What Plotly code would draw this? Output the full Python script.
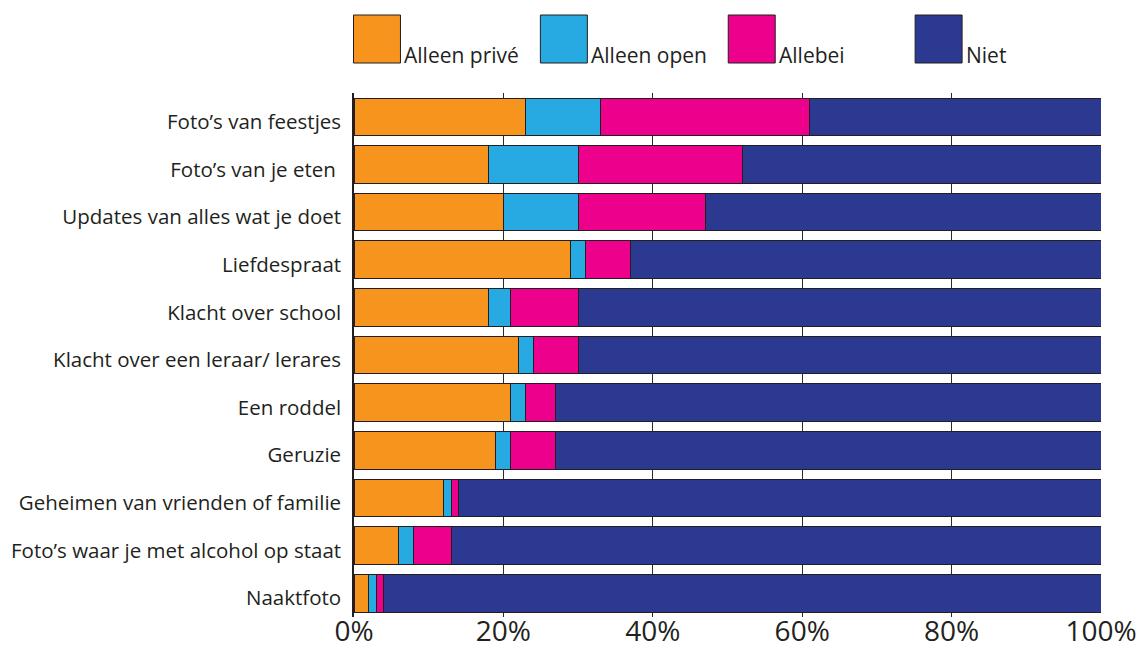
import plotly.graph_objects as go

categories = [
    "Foto’s van feestjes",
    "Foto’s van je eten\u00a0",
    "Updates van alles wat je doet",
    "Liefdespraat",
    "Klacht over school",
    "Klacht over een leraar/ lerares",
    "Een roddel",
    "Geruzie",
    "Geheimen van vrienden of familie",
    "Foto’s waar je met alcohol op staat",
    "Naaktfoto",
]
alleen_prive = [23, 18, 20, 29, 18, 22, 21, 19, 12, 6, 2]
alleen_open = [10, 12, 10, 2, 3, 2, 2, 2, 1, 2, 1]
allebei = [28, 22, 17, 6, 9, 6, 4, 6, 1, 5, 1]
niet = [39, 48, 53, 63, 70, 70, 73, 73, 86, 87, 96]

series_names = ["Alleen privé", "Alleen open", "Allebei", "Niet"]
series_values = [alleen_prive, alleen_open, allebei, niet]
colors = ["#F7941D", "#27AAE1", "#EC008C", "#2B3990"]

x_ticks = [0, 20, 40, 60, 80, 100]
x_ticklabels = ["0%", "20%", "40%", "60%", "80%", "100%"]

FONT = "Open Sans"
TXT = "#231F20"

W, H = 1143, 653
L, R, T, B = 353.5, 42, 93, 36
PW, PH = W - L - R, H - T - B

fig = go.Figure()
for name, vals, col in zip(series_names, series_values, colors):
    fig.add_trace(go.Bar(
        y=categories, x=vals, name=name, orientation="h",
        marker=dict(color=col, line=dict(color="#231F20", width=1)),
        showlegend=False, hovertemplate="%{y}: %{x}%<extra>" + name + "</extra>",
    ))

# custom legend (large swatches with labels to the lower right)
def px_x(p):
    return (p - L) / PW

def px_y(p):
    return (H - B - p) / PH

swatch_left = [353, 540, 728, 915]
shapes = []
annotations = []
for name, col, sx in zip(series_names, colors, swatch_left):
    shapes.append(dict(type="rect", xref="paper", yref="paper",
                       x0=px_x(sx), x1=px_x(sx + 47), y0=px_y(63), y1=px_y(15),
                       fillcolor=col, line=dict(color="#231F20", width=1)))
    annotations.append(dict(xref="paper", yref="paper", x=px_x(sx + 49), y=px_y(55),
                            xanchor="left", yanchor="middle", text=name, showarrow=False,
                            font=dict(family=FONT, size=21, color=TXT)))

fig.update_layout(
    width=W, height=H,
    barmode="stack", bargap=0.21,
    plot_bgcolor="white", paper_bgcolor="white",
    margin=dict(l=L, r=R, t=T, b=B, autoexpand=False),
    shapes=shapes, annotations=annotations,
    xaxis=dict(range=[0, 100], tickvals=x_ticks, ticktext=x_ticklabels,
               showgrid=True, gridcolor="#2A2A2A", gridwidth=1,
               zeroline=False, showline=False, ticks="", ticklabelstandoff=-5,
               tickfont=dict(family=FONT, size=28, color=TXT)),
    yaxis=dict(autorange="reversed", showline=True, linecolor="#231F20", linewidth=1.5,
               ticks="", ticklabelstandoff=7, ticklabelshift=-5, showgrid=False,
               tickfont=dict(family=FONT, size=20.5, color=TXT)),
)

fig.write_html("out.html", config={"displayModeBar": False},
               post_script="document.body.style.margin='0';document.body.style.overflow='hidden';")
